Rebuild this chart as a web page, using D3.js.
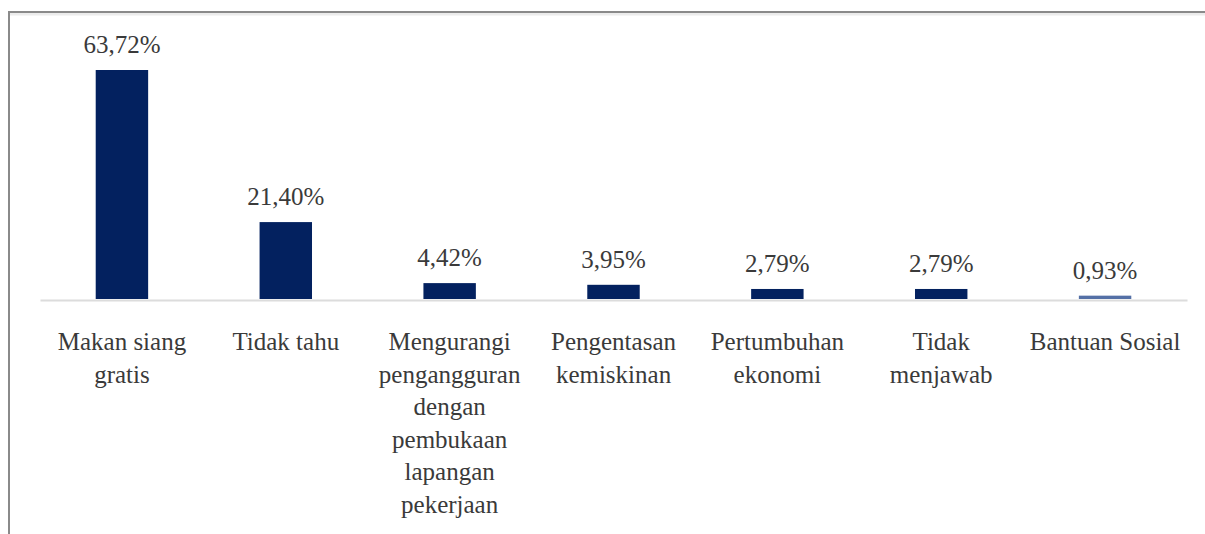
<!DOCTYPE html>
<html>
<head>
<meta charset="utf-8">
<script src="https://cdn.jsdelivr.net/npm/d3@7"></script>
<style>
  body { margin: 0; background: #fff; }
  svg text { font-family: "Liberation Serif", "Times New Roman", serif; fill: #3a3a3a; }
</style>
</head>
<body>
<svg id="drawing_region"></svg>
<script>
// survey answers, in the order they are shown
const categories = [
    "Makan siang gratis",
    "Tidak tahu",
    "Mengurangi pengangguran dengan pembukaan lapangan pekerjaan",
    "Pengentasan kemiskinan",
    "Pertumbuhan ekonomi",
    "Tidak menjawab",
    "Bantuan Sosial"
];
// how each category label is wrapped under the axis
const labelLines = [
    ["Makan siang", "gratis"],
    ["Tidak tahu"],
    ["Mengurangi", "pengangguran", "dengan", "pembukaan", "lapangan", "pekerjaan"],
    ["Pengentasan", "kemiskinan"],
    ["Pertumbuhan", "ekonomi"],
    ["Tidak", "menjawab"],
    ["Bantuan Sosial"]
];
const values = [63.72, 21.40, 4.42, 3.95, 2.79, 2.79, 0.93];
const valueLabels = ["63,72%", "21,40%", "4,42%", "3,95%", "2,79%", "2,79%", "0,93%"];

const width = 1205, height = 534;
const baseY = 299;

const svg = d3.select('#drawing_region')
    .attr('width', width)
    .attr('height', height);

// frame lines (top and left)
svg.append('line')
    .attr('x1', 8).attr('y1', 14).attr('x2', width).attr('y2', 14)
    .attr('stroke', '#ececec').attr('stroke-width', 3);
svg.append('line')
    .attr('x1', 8).attr('y1', 12).attr('x2', width).attr('y2', 12)
    .attr('stroke', '#8a8a8a').attr('stroke-width', 2);
svg.append('line')
    .attr('x1', 9).attr('y1', 11).attr('x2', 9).attr('y2', height)
    .attr('stroke', '#8a8a8a').attr('stroke-width', 2);

const x = d3.scaleBand()
    .domain(categories)
    .range([40, 1187])
    .paddingInner(0.68)
    .paddingOuter(0.34);

const y = d3.scaleLinear()
    .domain([0, 63.72])
    .range([baseY, 70]);

const data = categories.map((c, i) => ({
    category: c, value: values[i], label: valueLabels[i], lines: labelLines[i]
}));

// bars
svg.selectAll('rect.bar')
    .data(data)
    .enter()
    .append('rect')
    .attr('class', 'bar')
    .attr('x', d => x(d.category))
    .attr('y', d => y(d.value))
    .attr('width', x.bandwidth())
    .attr('height', d => y(0) - y(d.value))
    .attr('fill', (d, i) => i === data.length - 1 ? '#5470a6' : '#03215f');

// category axis
const axis = svg.append('g')
    .attr('transform', `translate(0, ${baseY + 1})`)
    .call(d3.axisBottom(x).tickSize(0).tickSizeOuter(0));

axis.select('.domain')
    .attr('stroke', '#dcdcdc')
    .attr('stroke-width', 2);

axis.selectAll('.tick text').remove();
axis.selectAll('.tick')
    .data(data)
    .append('text')
    .attr('text-anchor', 'middle')
    .attr('font-size', 25)
    .attr('y', 50)
    .selectAll('tspan')
    .data(d => d.lines)
    .enter()
    .append('tspan')
    .attr('x', 0)
    .attr('dy', (d, i) => i === 0 ? 0 : 32.5)
    .text(d => d);

// value labels
svg.selectAll('text.value')
    .data(data)
    .enter()
    .append('text')
    .attr('class', 'value')
    .attr('x', d => x(d.category) + x.bandwidth() / 2)
    .attr('y', d => y(d.value) - 17)
    .attr('text-anchor', 'middle')
    .attr('font-size', 25)
    .text(d => d.label);
</script>
</body>
</html>
